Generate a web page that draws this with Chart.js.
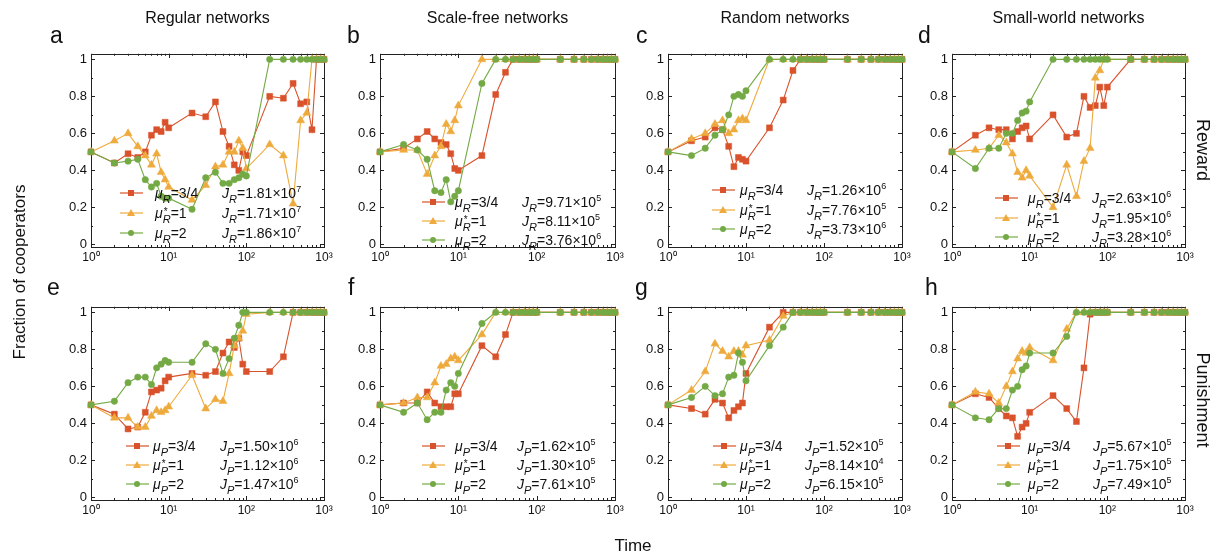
<!DOCTYPE html>
<html>
<head>
<meta charset="utf-8">
<script src="https://cdn.jsdelivr.net/npm/chart.js@4.4.1/dist/chart.umd.min.js"></script>
<style>
  body { margin: 0; width: 1223px; height: 558px; background: #fff; position: relative; overflow: hidden;
         font-family: "Liberation Sans", Arial, sans-serif; color: #111; }
  .abs { position: absolute; white-space: nowrap; line-height: 1; }
  .title { font-size: 16px; transform: translateX(-50%); }
  .letter { font-size: 23px; }
  .side { font-size: 18px; transform: translate(-50%, -50%) rotate(90deg); }
  .ylab { font-size: 17px; transform: translate(-50%, -50%) rotate(-90deg); }
  .xlab { font-size: 17px; transform: translateX(-50%); }
  .row { position: absolute; height: 16px; font-size: 14px; }
  .row svg { position: absolute; left: 0; top: 0; }
  .row .txt { position: absolute; top: 1px; white-space: nowrap; line-height: 14px; }
  .ss { position: relative; display: inline-block; font-size: 11px; line-height: 11px; vertical-align: -5px; }
  .ss .st { position: absolute; left: 1px; top: -8px; font-size: 10px; font-style: normal; }
  sup { font-size: 9px; vertical-align: 6px; line-height: 0; }
</style>
</head>
<body>
<script>
const times = [1, 2, 3, 4, 5, 6, 7, 8, 9, 10, 20, 30, 40, 50, 60, 70, 80, 90, 100, 200, 300, 400, 500, 600, 700, 800, 900, 1000];
const xTicks = [1, 10, 100, 1000];
const xTickLabels = ['10⁰', '10¹', '10²', '10³'];
const yTicks = [0, 0.2, 0.4, 0.6, 0.8, 1];
const yTickLabels = ['0', '0.2', '0.4', '0.6', '0.8', '1'];
const muLabels = ['3/4', '1', '2'];

// a - regular networks, reward
const regRew34 = [0.50, 0.44, 0.49, 0.47, 0.50, 0.59, 0.62, 0.61, 0.66, 0.63, 0.71, 0.69, 0.77, 0.61, 0.53, 0.43, 0.40, 0.50, 0.48, 0.80, 0.79, 0.87, 0.76, 0.77, 0.62, 1, 1, 1];
const regRew1 = [0.50, 0.56, 0.60, 0.53, 0.48, 0.43, 0.49, 0.39, 0.35, 0.31, 0.24, 0.32, 0.42, 0.43, 0.50, 0.50, 0.56, 0.52, 0.41, 0.54, 0.48, 0.22, 0.67, 0.71, 1, 1, 1, 1];
const regRew2 = [0.50, 0.44, 0.45, 0.46, 0.35, 0.31, 0.33, 0.26, 0.25, 0.25, 0.19, 0.36, 0.39, 0.33, 0.33, 0.35, 0.36, 0.38, 0.37, 1, 1, 1, 1, 1, 1, 1, 1, 1];
const regRewJ = [[1.81, 7], [1.71, 7], [1.86, 7]];

// b - scale-free networks, reward
const sfRew34 = [0.50, 0.52, 0.57, 0.61, 0.57, 0.55, 0.54, 0.49, 0.41, 0.40, 0.48, 0.81, 0.93, 1, 1, 1, 1, 1, 1, 1, 1, 1, 1, 1, 1, 1, 1, 1];
const sfRew1 = [0.50, 0.51, 0.51, 0.38, 0.48, 0.53, 0.65, 0.61, 0.67, 0.75, 1, 1, 1, 1, 1, 1, 1, 1, 1, 1, 1, 1, 1, 1, 1, 1, 1, 1];
const sfRew2 = [0.50, 0.54, 0.51, 0.46, 0.29, 0.28, 0.35, 0.23, 0.26, 0.29, 0.87, 1, 1, 1, 1, 1, 1, 1, 1, 1, 1, 1, 1, 1, 1, 1, 1, 1];
const sfRewJ = [[9.71, 5], [8.11, 5], [3.76, 6]];

// c - random networks, reward
const rndRew34 = [0.50, 0.56, 0.58, 0.63, 0.62, 0.53, 0.42, 0.47, 0.46, 0.45, 0.63, 0.78, 0.94, 1, 1, 1, 1, 1, 1, 1, 1, 1, 1, 1, 1, 1, 1, 1];
const rndRew1 = [0.50, 0.57, 0.60, 0.65, 0.67, 0.60, 0.62, 0.67, 0.68, 0.67, 1, 1, 1, 1, 1, 1, 1, 1, 1, 1, 1, 1, 1, 1, 1, 1, 1, 1];
const rndRew2 = [0.50, 0.48, 0.52, 0.59, 0.62, 0.70, 0.80, 0.81, 0.80, 0.83, 1, 1, 1, 1, 1, 1, 1, 1, 1, 1, 1, 1, 1, 1, 1, 1, 1, 1];
const rndRewJ = [[1.26, 6], [7.76, 5], [3.73, 6]];

// d - small-world networks, reward
const swRew34 = [0.50, 0.59, 0.63, 0.62, 0.62, 0.57, 0.61, 0.63, 0.64, 0.57, 0.70, 0.58, 0.60, 0.80, 0.74, 0.75, 0.85, 0.75, 0.85, 1, 1, 1, 1, 1, 1, 1, 1, 1];
const swRew1 = [0.50, 0.51, 0.52, 0.59, 0.55, 0.49, 0.39, 0.36, 0.40, 0.37, 0.20, 0.43, 0.26, 0.45, 0.52, 0.90, 0.94, 1, 1, 1, 1, 1, 1, 1, 1, 1, 1, 1];
const swRew2 = [0.50, 0.41, 0.52, 0.52, 0.60, 0.60, 0.67, 0.71, 0.72, 0.77, 1, 1, 1, 1, 1, 1, 1, 1, 1, 1, 1, 1, 1, 1, 1, 1, 1, 1];
const swRewJ = [[2.63, 6], [1.95, 6], [3.28, 6]];

// e - regular networks, punishment
const regPun34 = [0.50, 0.45, 0.37, 0.38, 0.46, 0.57, 0.58, 0.59, 0.63, 0.65, 0.67, 0.66, 0.68, 0.78, 0.84, 0.81, 0.86, 0.72, 0.68, 0.68, 0.76, 1, 1, 1, 1, 1, 1, 1];
const regPun1 = [0.50, 0.43, 0.43, 0.38, 0.38, 0.44, 0.47, 0.46, 0.47, 0.49, 0.66, 0.48, 0.53, 0.52, 0.67, 0.82, 0.86, 0.90, 0.99, 1, 1, 1, 1, 1, 1, 1, 1, 1];
const regPun2 = [0.50, 0.52, 0.62, 0.65, 0.65, 0.61, 0.70, 0.72, 0.74, 0.73, 0.73, 0.83, 0.80, 0.67, 0.75, 0.86, 0.93, 1, 1, 1, 1, 1, 1, 1, 1, 1, 1, 1];
const regPunJ = [[1.50, 6], [1.12, 6], [1.47, 6]];

// f - scale-free networks, punishment
const sfPun34 = [0.50, 0.51, 0.51, 0.57, 0.51, 0.49, 0.49, 0.49, 0.56, 0.56, 0.82, 0.76, 0.88, 1, 1, 1, 1, 1, 1, 1, 1, 1, 1, 1, 1, 1, 1, 1];
const sfPun1 = [0.50, 0.51, 0.54, 0.54, 0.62, 0.71, 0.72, 0.75, 0.76, 0.74, 0.88, 1, 1, 1, 1, 1, 1, 1, 1, 1, 1, 1, 1, 1, 1, 1, 1, 1];
const sfPun2 = [0.50, 0.46, 0.51, 0.42, 0.46, 0.46, 0.58, 0.62, 0.60, 0.67, 0.94, 1, 1, 1, 1, 1, 1, 1, 1, 1, 1, 1, 1, 1, 1, 1, 1, 1];
const sfPunJ = [[1.62, 5], [1.30, 5], [7.61, 5]];

// g - random networks, punishment
const rndPun34 = [0.50, 0.48, 0.45, 0.53, 0.51, 0.43, 0.47, 0.49, 0.51, 0.67, 0.92, 1, 1, 1, 1, 1, 1, 1, 1, 1, 1, 1, 1, 1, 1, 1, 1, 1];
const rndPun1 = [0.50, 0.58, 0.68, 0.83, 0.79, 0.76, 0.79, 0.79, 0.77, 0.82, 0.85, 0.98, 1, 1, 1, 1, 1, 1, 1, 1, 1, 1, 1, 1, 1, 1, 1, 1];
const rndPun2 = [0.50, 0.54, 0.60, 0.55, 0.56, 0.65, 0.66, 0.78, 0.73, 0.63, 0.82, 0.92, 1, 1, 1, 1, 1, 1, 1, 1, 1, 1, 1, 1, 1, 1, 1, 1];
const rndPunJ = [[1.52, 5], [8.14, 4], [6.15, 5]];

// h - small-world networks, punishment
const swPun34 = [0.50, 0.56, 0.54, 0.48, 0.44, 0.43, 0.33, 0.38, 0.40, 0.46, 0.55, 0.48, 0.41, 0.70, 0.99, 1, 1, 1, 1, 1, 1, 1, 1, 1, 1, 1, 1, 1];
const swPun1 = [0.50, 0.57, 0.56, 0.51, 0.60, 0.68, 0.75, 0.79, 0.78, 0.81, 0.74, 0.91, 1, 1, 1, 1, 1, 1, 1, 1, 1, 1, 1, 1, 1, 1, 1, 1];
const swPun2 = [0.50, 0.43, 0.42, 0.48, 0.48, 0.58, 0.60, 0.69, 0.71, 0.78, 0.78, 0.87, 1, 1, 1, 1, 1, 1, 1, 1, 1, 1, 1, 1, 1, 1, 1, 1];
const swPunJ = [[5.67, 5], [1.75, 5], [7.49, 5]];

const seriesStyle = [
    { color: '#d9522b', point: 'rect', radius: 4.2 },
    { color: '#eeaa3c', point: 'triangle', radius: 4.6 },
    { color: '#74aa45', point: 'circle', radius: 3.2 }
];

const PAD_L = 40, PAD_T = 10, PAD_R = 15, PAD_B = 22;

const panels = [
    { letter: 'a', lx: 50, ly: 24, title: 'Regular networks', sub: 'R', left: 91, top: 52, w: 233, h: 195,
      series: [regRew34, regRew1, regRew2], j: regRewJ, leg: { x: 120, y: 193, gap: 20, mu: 155, jx: 222 } },
    { letter: 'b', lx: 347, ly: 24, title: 'Scale-free networks', sub: 'R', left: 380, top: 52, w: 235, h: 195,
      series: [sfRew34, sfRew1, sfRew2], j: sfRewJ, leg: { x: 422, y: 202, gap: 19, mu: 455, jx: 522 } },
    { letter: 'c', lx: 636, ly: 24, title: 'Random networks', sub: 'R', left: 668, top: 52, w: 234, h: 195,
      series: [rndRew34, rndRew1, rndRew2], j: rndRewJ, leg: { x: 712, y: 190, gap: 19.5, mu: 740, jx: 807 } },
    { letter: 'd', lx: 918, ly: 24, title: 'Small-world networks', sub: 'R', left: 952, top: 52, w: 233, h: 195,
      series: [swRew34, swRew1, swRew2], j: swRewJ, leg: { x: 995, y: 198, gap: 19.5, mu: 1028, jx: 1092 } },
    { letter: 'e', lx: 47, ly: 276, sub: 'P', left: 91, top: 305, w: 233, h: 195,
      series: [regPun34, regPun1, regPun2], j: regPunJ, leg: { x: 126, y: 446, gap: 19, mu: 153, jx: 220 } },
    { letter: 'f', lx: 348, ly: 276, sub: 'P', left: 380, top: 305, w: 235, h: 195,
      series: [sfPun34, sfPun1, sfPun2], j: sfPunJ, leg: { x: 422, y: 446, gap: 19, mu: 455, jx: 517 } },
    { letter: 'g', lx: 635, ly: 276, sub: 'P', left: 668, top: 305, w: 234, h: 195,
      series: [rndPun34, rndPun1, rndPun2], j: rndPunJ, leg: { x: 713, y: 446, gap: 19, mu: 740, jx: 805 } },
    { letter: 'h', lx: 925, ly: 276, sub: 'P', left: 952, top: 305, w: 233, h: 195,
      series: [swPun34, swPun1, swPun2], j: swPunJ, leg: { x: 997, y: 446, gap: 19, mu: 1028, jx: 1093 } }
];

// box around the plot, ticks pointing inward on all four sides
const framePlugin = {
    id: 'frame',
    beforeDatasetsDraw(chart) {
        const { ctx, chartArea: a, scales: { x, y } } = chart;
        ctx.save();
        ctx.strokeStyle = '#222';
        ctx.lineWidth = 1;
        ctx.beginPath();
        for (let d = 1; d < 1000; d *= 10) {
            for (let k = 1; k <= 10; k++) {
                const px = Math.round(x.getPixelForValue(k * d)) + 0.5;
                const len = k === 1 || k === 10 ? 4 : 2;
                ctx.moveTo(px, a.bottom); ctx.lineTo(px, a.bottom - len);
                ctx.moveTo(px, a.top); ctx.lineTo(px, a.top + len);
            }
        }
        for (let k = 0; k <= 10; k++) {
            const py = Math.round(y.getPixelForValue(k / 10)) + 0.5;
            const len = k % 2 === 0 ? 4 : 2;
            ctx.moveTo(a.left, py); ctx.lineTo(a.left + len, py);
            ctx.moveTo(a.right, py); ctx.lineTo(a.right - len, py);
        }
        ctx.stroke();
        ctx.strokeRect(Math.round(a.left) + 0.5, Math.round(a.top) + 0.5, Math.round(a.width), Math.round(a.height));
        ctx.restore();
    }
};

function addText(cls, html, left, top) {
    const el = document.createElement('div');
    el.className = 'abs ' + cls;
    el.innerHTML = html;
    el.style.left = left + 'px';
    el.style.top = top + 'px';
    document.body.appendChild(el);
    return el;
}

function markerSvg(i) {
    const c = seriesStyle[i].color;
    let m = '';
    if (i === 0) m = `<rect x="8" y="5" width="6" height="6" fill="${c}"/>`;
    if (i === 1) m = `<polygon points="11,4 15,11 7,11" fill="${c}"/>`;
    if (i === 2) m = `<circle cx="11" cy="8" r="3" fill="${c}"/>`;
    return `<svg width="23" height="16"><line x1="0" y1="8" x2="23" y2="8" stroke="${c}" stroke-width="1.2"/>${m}</svg>`;
}

function buildLegend(p) {
    p.series.forEach((s, i) => {
        const row = document.createElement('div');
        row.className = 'row';
        row.style.left = p.leg.x + 'px';
        row.style.top = (p.leg.y + i * p.leg.gap - 8) + 'px';
        const star = i === 1 ? '<span class="st">*</span>' : '';
        const mu = `<i>μ</i><i class="ss">${star}${p.sub}</i>=${muLabels[i]}`;
        const jv = p.j[i];
        const jt = `<i>J</i><i class="ss">${p.sub}</i>=${jv[0].toFixed(2)}×10<sup>${jv[1]}</sup>`;
        row.innerHTML = markerSvg(i) +
            `<span class="txt" style="left:${p.leg.mu - p.leg.x}px">${mu}</span>` +
            `<span class="txt" style="left:${p.leg.jx - p.leg.x}px">${jt}</span>`;
        document.body.appendChild(row);
    });
}

function generateChart(p) {
    const cv = document.createElement('canvas');
    cv.width = p.w + PAD_L + PAD_R;
    cv.height = p.h + PAD_T + PAD_B;
    cv.style.position = 'absolute';
    cv.style.left = (p.left - PAD_L) + 'px';
    cv.style.top = (p.top - PAD_T) + 'px';
    document.body.appendChild(cv);

    const datasets = p.series.map((vals, i) => ({
        label: muLabels[i],
        data: vals.map((v, k) => ({ x: times[k], y: v })),
        borderColor: seriesStyle[i].color,
        backgroundColor: seriesStyle[i].color,
        pointStyle: seriesStyle[i].point,
        pointRadius: seriesStyle[i].radius,
        pointBorderWidth: 0.5,
        borderWidth: 1.1,
        order: 2 - i,
        clip: false
    }));

    const tickFont = { family: '"Liberation Sans", Arial, sans-serif', size: 13 };

    new Chart(cv, {
        type: 'line',
        data: { datasets },
        options: {
            responsive: false,
            animation: false,
            devicePixelRatio: 1,
            layout: { padding: { top: PAD_T, right: PAD_R, left: 0, bottom: 0 } },
            plugins: { legend: { display: false }, tooltip: { enabled: false } },
            scales: {
                x: {
                    type: 'logarithmic',
                    min: 1,
                    max: 1000,
                    afterBuildTicks: s => { s.ticks = xTicks.map(v => ({ value: v })); },
                    afterFit: s => { s.height = PAD_B; },
                    ticks: { callback: (v, i) => xTickLabels[i], font: { ...tickFont, size: 12 }, color: '#111',
                             padding: 3, maxRotation: 0, autoSkip: false },
                    grid: { display: false, drawTicks: false },
                    border: { display: false }
                },
                y: {
                    min: -0.014,
                    max: 1.03,
                    afterBuildTicks: s => { s.ticks = yTicks.map(v => ({ value: v })); },
                    afterFit: s => { s.width = PAD_L; },
                    ticks: { callback: (v, i) => yTickLabels[i], font: tickFont, color: '#111', padding: 4 },
                    grid: { display: false, drawTicks: false },
                    border: { display: false }
                }
            }
        },
        plugins: [framePlugin]
    });
}

panels.forEach(p => {
    generateChart(p);
    buildLegend(p);
    addText('letter', p.letter, p.lx, p.ly);
    if (p.title) addText('title', p.title, p.left + p.w / 2, 10);
});

addText('side', 'Reward', 1203, 150);
addText('side', 'Punishment', 1203, 400);
addText('ylab', 'Fraction of cooperators', 19, 272);
addText('xlab', 'Time', 633, 537);
</script>
</body>
</html>
